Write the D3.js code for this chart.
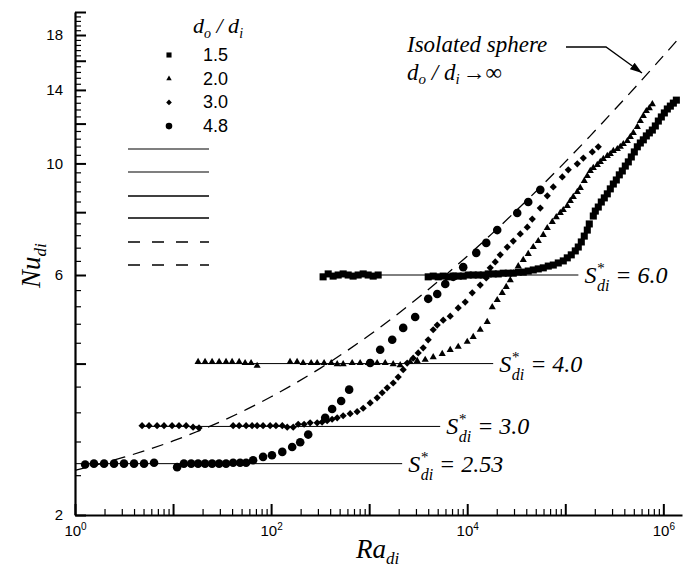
<!DOCTYPE html>
<html>
<head>
<meta charset="utf-8">
<script src="https://cdn.jsdelivr.net/npm/d3@7"></script>
<style>
body { margin: 0; background: #fff; }
text { fill: #000; }
</style>
</head>
<body>
<script>
// Ra and Nu, one pair of arrays per diameter ratio
var ra15 = [339, 382, 429, 483, 543, 611, 686, 772, 869, 977, 1099, 1235,
    4000, 4499, 5060, 5690, 6400, 7200, 8094, 9100, 10240, 11510, 12950, 14570, 16380, 18420, 20720, 23300,
    26210, 29480, 33150, 37270, 41900, 47160, 53030, 59640, 67080, 75440, 84850, 95410, 104800, 115100,
    126500, 135700, 145700, 156200,
    167700, 175700, 193100, 202400, 217100, 233000, 250000, 268300, 287900, 309000, 331500, 355600, 381600,
    409500, 439500, 471500, 506000, 542900, 582600, 625200, 670800, 719900, 772500, 828700, 889200, 954100,
    1024000, 1098000, 1179000, 1265000, 1358000];
var nu15 = [5.95, 6.03, 5.97, 6.0, 6.03, 6.0, 5.97, 6.0, 6.03, 6.0, 5.97, 6.0,
    5.95, 5.97, 5.95, 5.97, 5.95, 5.97, 5.97, 5.97, 6.0, 6.0, 6.0, 6.0, 6.03, 6.03, 6.03, 6.05,
    6.05, 6.05, 6.08, 6.08, 6.11, 6.14, 6.17, 6.20, 6.25, 6.28, 6.34, 6.40, 6.49, 6.58,
    6.70, 6.82, 6.98, 7.17,
    7.37, 7.58, 7.86, 8.04, 8.19, 8.38, 8.54, 8.70, 8.90, 9.10, 9.27, 9.49, 9.66,
    9.88, 10.07, 10.30, 10.54, 10.79, 10.98, 11.14, 11.34, 11.50, 11.65, 11.87, 12.14, 12.37,
    12.60, 12.83, 13.00, 13.18, 13.36];

var ra20 = [18.0, 21.2, 25.0, 29.5, 34.7, 40.0, 47.2, 54.3, 62.5, 72.0,
    156, 184, 212, 256, 295, 347, 410, 472, 543, 671, 809, 977, 1206, 1457, 1758, 2072,
    2620, 3090, 3728, 4499, 5558, 6706, 8094, 10000, 11510, 13570, 16000, 17990, 20230, 22750, 25000,
    27470, 29480, 33150, 37270, 41900, 47160, 53030, 59640, 65530, 73690, 80940, 88920, 95410, 104800,
    112500, 120700, 132600, 142300, 156200, 167700, 179900, 193100, 212100, 227600, 244300, 268300,
    287900, 309000, 339400, 364200, 390800, 429300, 460600, 494300, 542900, 582600, 625200, 670800,
    719900, 772500];
var nu20 = [4.03, 4.03, 4.03, 4.03, 4.03, 4.03, 4.03, 4.01, 4.01, 3.96,
    4.03, 4.03, 4.01, 4.01, 4.01, 4.01, 4.01, 3.99, 3.99, 4.01, 4.01, 4.01, 4.01, 4.01, 3.99, 3.97,
    4.03, 4.05, 4.07, 4.12, 4.18, 4.26, 4.32, 4.42, 4.52, 4.67, 4.84, 5.18, 5.35, 5.53, 5.68,
    5.86, 6.05, 6.25, 6.43, 6.61, 6.82, 7.01, 7.21, 7.44, 7.65, 7.82, 7.97, 8.08, 8.23,
    8.42, 8.58, 8.78, 8.94, 9.23, 9.44, 9.66, 9.80, 9.93, 10.07, 10.21, 10.35,
    10.44, 10.59, 10.68, 10.79, 10.93, 11.08, 11.29, 11.50, 11.82, 12.14, 12.43, 12.71,
    12.88, 13.12];

var ra30 = [4.83, 5.69, 6.87, 8.09, 9.77, 11.5, 13.6, 16.0, 18.4,
    41.0, 47.2, 55.6, 64.0, 72.0, 82.8, 97.7, 112, 130, 146, 168,
    189, 217, 250, 295, 331, 373, 419, 472, 543, 640, 754, 869, 1024, 1206, 1357, 1527, 1758, 1977,
    2223, 2442, 2812, 3162, 3556, 4000, 4499, 4943, 5690, 6706, 8094, 9541, 11250, 13570, 15630,
    17170, 19310, 21710, 25600, 29480, 34740, 40950, 46060, 55600, 65530, 75440, 93200, 107300,
    132600, 152700, 188600, 217100];
var nu30 = [3.01, 3.01, 3.01, 3.01, 3.01, 3.01, 3.01, 2.99, 2.98,
    3.01, 3.01, 3.01, 3.01, 3.01, 3.01, 3.01, 3.01, 3.01, 2.99, 2.99,
    3.03, 3.03, 3.05, 3.05, 3.06, 3.08, 3.10, 3.12, 3.15, 3.18, 3.21, 3.26, 3.34, 3.42, 3.50, 3.58, 3.66, 3.76,
    3.89, 4.01, 4.10, 4.20, 4.30, 4.46, 4.67, 4.77, 4.88, 4.97, 5.16, 5.30, 5.53, 5.73, 5.92,
    6.20, 6.37, 6.58, 6.82, 7.01, 7.24, 7.47, 7.75, 8.15, 8.62, 8.98, 9.40, 9.71,
    9.98, 10.25, 10.54, 10.79];

var ra48 = [1.27, 1.56, 1.98, 2.5, 3.16, 4.0, 5.06, 6.4,
    11.0, 12.9, 15.3, 18.0, 21.2, 25.0, 29.5, 34.7, 41.0, 48.3, 55.6,
    65.5, 82.8, 102, 130, 164, 198, 239,
    356, 419, 518, 625,
    1024, 1295, 1718, 2223, 2946, 4000, 4943, 5970, 7200, 9100, 12360, 15630, 20230, 32360, 41900, 55600];
var nu48 = [2.52, 2.53, 2.53, 2.53, 2.53, 2.53, 2.53, 2.54,
    2.49, 2.53, 2.53, 2.53, 2.53, 2.53, 2.53, 2.53, 2.54, 2.54, 2.54,
    2.57, 2.61, 2.63, 2.67, 2.73, 2.79, 2.89,
    3.12, 3.25, 3.37, 3.55,
    4.01, 4.26, 4.46, 4.71, 4.95, 5.38, 5.50, 5.76, 5.95, 6.22, 6.64, 6.95, 7.37, 7.97, 8.38, 8.86];

// isolated sphere curve (dashed)
var sphereRa = [1, 1.78, 3.16, 5.62, 10, 17.8, 31.6, 56.2, 100, 178, 316, 562, 1000, 1778, 3162, 5623,
    1e4, 17780, 31620, 56230, 1e5, 177800, 316200, 562300, 1e6, 1.4e6];
var sphereNu = [2.454, 2.524, 2.606, 2.699, 2.807, 2.933, 3.076, 3.243, 3.436, 3.658, 3.914, 4.211, 4.553,
    4.948, 5.405, 5.932, 6.54, 7.243, 8.055, 8.99, 10.07, 11.32, 12.77, 14.43, 16.36, 17.62];

// S*_di reference levels and the Ra span of each line
var sLevels = [6.0, 4.0, 3.0, 2.53];
var sLabels = ["6.0", "4.0", "3.0", "2.53"];
var sFrom = [340, 17.6, 4.6, 1];
var sTo = [136000, 18400, 5300, 2170];

var ratioLabels = ["1.5", "2.0", "3.0", "4.8"];
var yLabels = [2, 6, 10, 14, 18];
var xLabelPowers = [0, 2, 4, 6];

var width = 689,
    height = 567;

var svg = d3.select("body")
    .append("svg")
    .attr("width", width)
    .attr("height", height);

var x = d3.scaleLog().domain([1, 1.55e6]).range([75, 682]);
var y = d3.scaleLog().domain([2, 20]).range([515, 12]);

var sans = "'Liberation Sans', Arial, Helvetica, sans-serif";
var serif = "'Liberation Serif', 'Times New Roman', serif";

//y axis: major every 2, minor every 0.4
var yMajor = d3.range(2, 20.5, 2);
var yMinor = d3.range(2, 20.01, 0.4).filter(function(v) {
    return Math.abs(v / 2 - Math.round(v / 2)) > 1e-6;
});

svg.append("g")
    .attr("transform", "translate(75,0)")
    .call(d3.axisLeft(y).tickValues(yMinor).tickSizeInner(-6).tickSizeOuter(0).tickFormat(""))
    .call(function(g) { g.select(".domain").remove(); })
    .selectAll("line").attr("stroke-width", 1.2);

var yAxis = svg.append("g")
    .attr("transform", "translate(75,0)")
    .call(d3.axisLeft(y).tickValues(yMajor).tickSizeInner(-11).tickSizeOuter(0).tickPadding(12)
        .tickFormat(function(d) { return yLabels.indexOf(Math.round(d)) >= 0 ? Math.round(d) : ""; }));
yAxis.selectAll("line").attr("stroke-width", 2);
yAxis.select(".domain").attr("stroke-width", 2.2);
yAxis.selectAll("text").attr("font-family", sans).attr("font-size", 15);

//x axis: decades plus 2..9 minor ticks
var xMajor = d3.range(0, 7).map(function(k) { return Math.pow(10, k); });
var xMinor = [];
xMajor.forEach(function(p) {
    for (var m = 2; m <= 9; m++) {
        if (m * p <= 1.55e6) xMinor.push(m * p);
    }
});

svg.append("g")
    .attr("transform", "translate(0,515)")
    .call(d3.axisBottom(x).tickValues(xMinor).tickSizeInner(-6).tickSizeOuter(0).tickFormat(""))
    .call(function(g) { g.select(".domain").remove(); })
    .selectAll("line").attr("stroke-width", 1.2);

var xAxis = svg.append("g")
    .attr("transform", "translate(0,515)")
    .call(d3.axisBottom(x).tickValues(xMajor).tickSizeInner(-11).tickSizeOuter(0).tickPadding(10)
        .tickFormat(function() { return ""; }));
xAxis.selectAll("line").attr("stroke-width", 2);
xAxis.select(".domain").attr("stroke-width", 2.2);
xAxis.selectAll("text").each(function(d) {
    var p = Math.round(Math.log10(d));
    if (xLabelPowers.indexOf(p) < 0) return;
    var t = d3.select(this).attr("font-family", sans).attr("font-size", 15);
    t.append("tspan").text("10");
    t.append("tspan").attr("font-size", 10).attr("dy", "-0.55em").text(p);
});

//S* reference lines
svg.selectAll(".sline")
    .data(sLevels)
    .enter()
    .append("line")
    .attr("class", "sline")
    .attr("x1", function(d, i) { return x(sFrom[i]); })
    .attr("x2", function(d, i) { return x(sTo[i]); })
    .attr("y1", function(d) { return y(d); })
    .attr("y2", function(d) { return y(d); })
    .attr("stroke", "#000")
    .attr("stroke-width", 1);

//S* labels
sLevels.forEach(function(d, i) {
    var t = svg.append("text")
        .attr("x", x(sTo[i]) + 6)
        .attr("y", y(d) + 8)
        .attr("font-family", serif)
        .attr("font-style", "italic")
        .attr("font-size", 24);
    t.append("tspan").text("S");
    t.append("tspan").attr("font-size", 15).attr("dy", -10).text("*");
    t.append("tspan").attr("font-size", 16).attr("dx", -7).attr("dy", 18).text("di");
    t.append("tspan").attr("dy", -8).text(" = " + sLabels[i]);
});

//isolated sphere dashed curve
var line = d3.line()
    .x(function(d) { return x(d[0]); })
    .y(function(d) { return y(d[1]); })
    .curve(d3.curveCatmullRom);

svg.append("path")
    .datum(sphereRa.map(function(r, i) { return [r, sphereNu[i]]; }))
    .attr("d", line)
    .attr("fill", "none")
    .attr("stroke", "#000")
    .attr("stroke-width", 1.3)
    .attr("stroke-dasharray", "12,8");

//markers
var series = [
    { ra: ra15, nu: nu15, shape: d3.symbolSquare, size: 50, rot: 0, lsize: 26 },
    { ra: ra20, nu: nu20, shape: d3.symbolTriangle, size: 22, rot: 0, lsize: 13 },
    { ra: ra30, nu: nu30, shape: d3.symbolSquare, size: 26, rot: 45, lsize: 16 },
    { ra: ra48, nu: nu48, shape: d3.symbolCircle, size: 58, rot: 0, lsize: 34 }
];

series.forEach(function(s) {
    var sym = d3.symbol().type(s.shape).size(s.size);
    svg.append("g")
        .selectAll("path")
        .data(s.ra.map(function(r, i) { return [r, s.nu[i]]; }))
        .enter()
        .append("path")
        .attr("d", sym)
        .attr("transform", function(d) {
            return "translate(" + x(d[0]) + "," + y(d[1]) + ") rotate(" + s.rot + ")";
        })
        .attr("fill", "#000");
});

//legend
var legend = svg.append("g");
var head = legend.append("text")
    .attr("x", 193).attr("y", 33)
    .attr("font-family", serif).attr("font-style", "italic").attr("font-size", 22);
head.append("tspan").text("d");
head.append("tspan").attr("font-size", 14).attr("dy", 5).text("o");
head.append("tspan").attr("dy", -5).text(" / d");
head.append("tspan").attr("font-size", 14).attr("dy", 5).text("i");

series.forEach(function(s, i) {
    var yy = 55 + i * 23.7;
    legend.append("path")
        .attr("d", d3.symbol().type(s.shape).size(s.lsize))
        .attr("transform", "translate(169," + yy + ") rotate(" + s.rot + ")")
        .attr("fill", "#000");
    legend.append("text")
        .attr("x", 203).attr("y", yy + 6)
        .attr("font-family", sans).attr("font-size", 18)
        .text(ratioLabels[i]);
});

//unlabelled line samples
var sampleY = [149, 172, 196, 218, 242, 265];
var sampleDash = [null, null, null, null, "12,12", "12,12"];
var sampleColor = ["#555", "#555", "#000", "#000", "#000", "#000"];
legend.selectAll(".sample")
    .data(sampleY)
    .enter()
    .append("line")
    .attr("x1", 128).attr("x2", 209)
    .attr("y1", function(d) { return d; })
    .attr("y2", function(d) { return d; })
    .attr("stroke", function(d, i) { return sampleColor[i]; })
    .attr("stroke-width", 1.3)
    .attr("stroke-dasharray", function(d, i) { return sampleDash[i]; });

//isolated sphere note with arrow
svg.append("defs").append("marker")
    .attr("id", "arrow")
    .attr("viewBox", "0 0 12 8")
    .attr("refX", 12).attr("refY", 4)
    .attr("markerWidth", 12).attr("markerHeight", 8)
    .attr("markerUnits", "userSpaceOnUse")
    .attr("orient", "auto")
    .append("path")
    .attr("d", "M0,0 L12,4 L0,8 Z")
    .attr("fill", "#000");

svg.append("text")
    .attr("x", 407).attr("y", 52)
    .attr("font-family", serif).attr("font-style", "italic").attr("font-size", 23)
    .text("Isolated sphere");

var note = svg.append("text")
    .attr("x", 407).attr("y", 80)
    .attr("font-family", serif).attr("font-style", "italic").attr("font-size", 23);
note.append("tspan").text("d");
note.append("tspan").attr("font-size", 15).attr("dy", 4).text("o");
note.append("tspan").attr("dy", -4).text(" / d");
note.append("tspan").attr("font-size", 15).attr("dy", 4).text("i");
note.append("tspan").attr("dy", -4).attr("dx", 3).attr("font-style", "normal").attr("font-size", 23).text("\u2192\u221e");

svg.append("path")
    .attr("d", "M566,47 L606,47 L642,73")
    .attr("fill", "none")
    .attr("stroke", "#000")
    .attr("stroke-width", 1.3)
    .attr("marker-end", "url(#arrow)");

//axis titles
var ra = svg.append("text")
    .attr("x", 356).attr("y", 558)
    .attr("font-family", serif).attr("font-style", "italic").attr("font-size", 27);
ra.append("tspan").text("Ra");
ra.append("tspan").attr("font-size", 17).attr("dy", 6).text("di");

var nu = svg.append("text")
    .attr("transform", "translate(40,288) rotate(-90)")
    .attr("font-family", serif).attr("font-style", "italic").attr("font-size", 27);
nu.append("tspan").text("Nu");
nu.append("tspan").attr("font-size", 17).attr("dy", 6).text("di");
</script>
</body>
</html>
